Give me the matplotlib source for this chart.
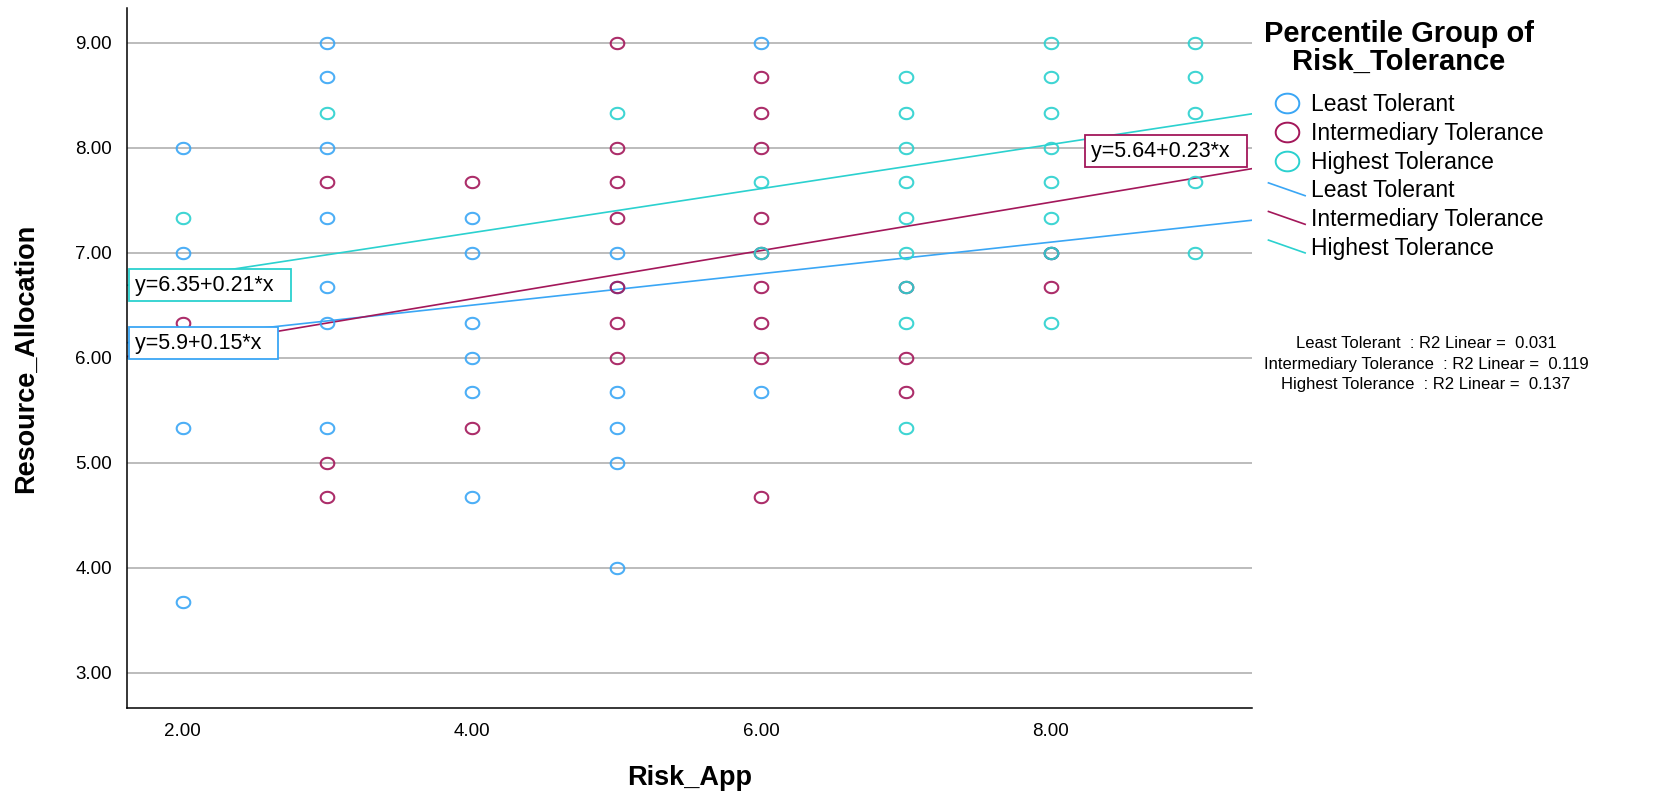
import numpy as np
import matplotlib
matplotlib.use("Agg")
import matplotlib.pyplot as plt
from matplotlib.path import Path
from matplotlib.lines import Line2D
from matplotlib.legend_handler import HandlerBase

plt.rcParams['font.family'] = ['Liberation Sans', 'DejaVu Sans']

# --- data ---
groups = ["Least Tolerant", "Intermediary Tolerance", "Highest Tolerance"]
colors = ["#3aa6f5", "#a3175a", "#2bd1cf"]

least_x = [2, 2, 2, 2,
           3, 3, 3, 3, 3, 3, 3,
           4, 4, 4, 4, 4, 4,
           5, 5, 5, 5, 5, 5,
           6, 6,
           8]
least_y = [8.00, 7.00, 5.33, 3.67,
           9.00, 8.67, 8.00, 7.33, 6.67, 6.33, 5.33,
           7.33, 7.00, 6.33, 6.00, 5.67, 4.67,
           7.00, 6.67, 5.67, 5.33, 5.00, 4.00,
           9.00, 5.67,
           7.00]

inter_x = [2,
           3, 3, 3,
           4, 4,
           5, 5, 5, 5, 5, 5, 5,
           6, 6, 6, 6, 6, 6, 6, 6, 6,
           7, 7, 7,
           8, 8]
inter_y = [6.33,
           7.67, 5.00, 4.67,
           7.67, 5.33,
           9.00, 8.00, 7.67, 7.33, 6.67, 6.33, 6.00,
           8.67, 8.33, 8.00, 7.33, 7.00, 6.67, 6.33, 6.00, 4.67,
           6.67, 6.00, 5.67,
           7.00, 6.67]

high_x = [2,
          3,
          5,
          6, 6,
          7, 7, 7, 7, 7, 7, 7, 7, 7,
          8, 8, 8, 8, 8, 8, 8, 8,
          9, 9, 9, 9, 9]
high_y = [7.33,
          8.33,
          8.33,
          7.67, 7.00,
          8.67, 8.33, 8.00, 7.67, 7.33, 7.00, 6.67, 6.33, 5.33,
          9.00, 8.67, 8.33, 8.00, 7.67, 7.33, 7.00, 6.33,
          9.00, 8.67, 8.33, 7.67, 7.00]

intercepts = [5.90, 5.64, 6.35]
slopes = [0.15, 0.23, 0.21]
fit_labels = ["y=5.9+0.15*x", "y=5.64+0.23*x", "y=6.35+0.21*x"]
r2_values = [0.031, 0.119, 0.137]

xs = [least_x, inter_x, high_x]
ys = [least_y, inter_y, high_y]

xlim = (1.614, 9.39)
ylim = (2.664, 9.326)

# slightly wide ellipse marker like the SPSS output
t = np.linspace(0, 2 * np.pi, 60)
ellipse = Path(np.column_stack([1.2 * np.cos(t), np.sin(t)]), closed=True)

fig = plt.figure(figsize=(16.62, 7.96), dpi=100)
ax = fig.add_axes([0.07623, 0.1106, 0.6769, 0.8788])

for gx, gy, c in zip(xs, ys, colors):
    ax.plot(gx, gy, linestyle='none', marker=ellipse, markersize=9.8,
            markerfacecolor='none', markeredgecolor=c, markeredgewidth=1.5,
            alpha=0.9, zorder=3)

xx = np.array(xlim)
for b0, b1, c in zip(intercepts, slopes, colors):
    ax.plot(xx, b0 + b1 * xx, color=c, lw=1.2, zorder=2)

# equation boxes
box_pos = [(1.668, 6.138), (8.276, 7.967), (1.668, 6.69)]
for (bx, by), s, c in zip(box_pos, fit_labels, colors):
    ax.text(bx, by, s + "  ", ha='left', va='center', fontsize=15.5, zorder=5,
            bbox=dict(boxstyle='square,pad=0.26', facecolor='white',
                      edgecolor=c, linewidth=1.3))

ax.set_xlim(*xlim)
ax.set_ylim(*ylim)
ax.set_xticks([2, 4, 6, 8])
ax.set_xticklabels([f"{v:.2f}" for v in [2, 4, 6, 8]])
ax.set_yticks([3, 4, 5, 6, 7, 8, 9])
ax.set_yticklabels([f"{v:.2f}" for v in [3, 4, 5, 6, 7, 8, 9]])
ax.tick_params(axis='both', length=0, labelsize=13.5)
ax.tick_params(axis='y', pad=10.5)
ax.tick_params(axis='x', pad=11)
ax.grid(axis='y', color='#b0b0b0', lw=1.2)
ax.set_axisbelow(True)
for side in ['top', 'right']:
    ax.spines[side].set_visible(False)
for side in ['left', 'bottom']:
    ax.spines[side].set_linewidth(1.1)

ax.set_xlabel("Risk_App", fontsize=19.5, fontweight='bold', va='center')
ax.xaxis.set_label_coords(0.5, -(778 - 708) / 699.5)
ax.set_ylabel("Resource_Allocation", fontsize=19.5, fontweight='bold', va='center')
ax.yaxis.set_label_coords(-(126.7 - 26.5) / 1125, 0.5)


class DiagHandler(HandlerBase):
    def create_artists(self, legend, orig_handle, xdescent, ydescent,
                       width, height, fontsize, trans):
        ln = Line2D([-xdescent, -xdescent + width],
                    [-ydescent + height * 0.9, -ydescent + height * 0.1],
                    color=orig_handle.get_color(), lw=orig_handle.get_linewidth(),
                    transform=trans)
        return [ln]


handles = []
for c in colors:
    handles.append(Line2D([], [], linestyle='none', marker=ellipse, markersize=17,
                          markerfacecolor='none', markeredgecolor=c, markeredgewidth=1.4))
line_handles = [Line2D([], [], color=c, lw=1.2) for c in colors]
hmap = {h: DiagHandler() for h in line_handles}

fig.text(1399 / 1662, 1 - 48 / 796, "Percentile Group of\nRisk_Tolerance",
         ha='center', va='center', multialignment='center', fontsize=21,
         fontweight='bold', linespacing=0.98)

leg = fig.legend(handles + line_handles, groups + groups, loc='upper left',
                 bbox_to_anchor=(1257 / 1662, 1 - 82 / 796), frameon=False,
                 fontsize=16.5, handlelength=1.6, handletextpad=0.25,
                 labelspacing=0.245, borderpad=0, handler_map=hmap)

r2_text = "\n".join(f"{g}  : R2 Linear =  {r:.3f}" for g, r in zip(groups, r2_values))
fig.text(1426 / 1662, 1 - 364 / 796, r2_text, ha='center', va='center',
         multialignment='center', fontsize=12, linespacing=1.45)

fig.savefig("out.png", dpi=100)
